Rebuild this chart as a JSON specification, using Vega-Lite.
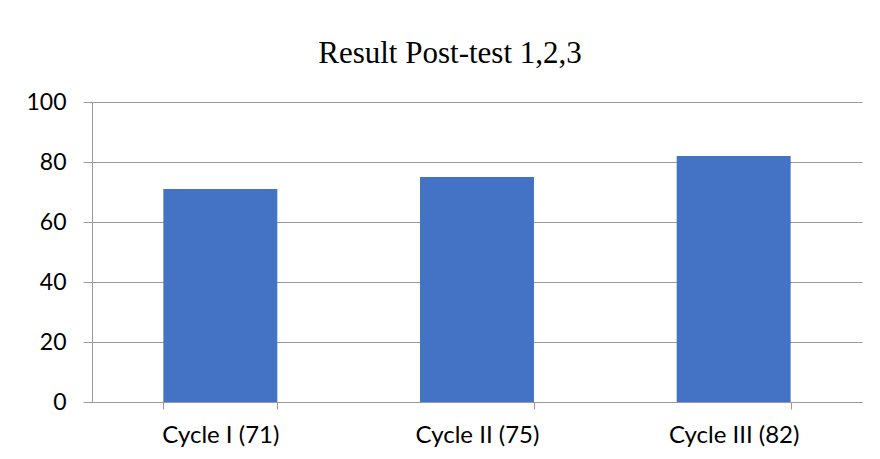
{
  "$schema": "https://vega.github.io/schema/vega-lite/v6.json",
  "width": 770,
  "height": 300,
  "autosize": {"type": "none"},
  "padding": {"left": 92, "top": 102, "right": 18, "bottom": 57},
  "background": "white",
  "config": {"view": {"stroke": null}},
  "title": {
    "text": "Result Post-test 1,2,3",
    "font": "Liberation Serif",
    "fontSize": 31,
    "fontWeight": "normal",
    "color": "#000000",
    "anchor": "middle",
    "dx": -27,
    "offset": 21
  },
  "data": {
    "values": [
      {"cycle": "Cycle I (71)", "score": 71},
      {"cycle": "Cycle II (75)", "score": 75},
      {"cycle": "Cycle III (82)", "score": 82}
    ]
  },
  "mark": {"type": "bar", "color": "#4472C4"},
  "encoding": {
    "x": {
      "field": "cycle",
      "type": "nominal",
      "sort": null,
      "scale": {"paddingInner": 0.556, "paddingOuter": 0.278},
      "axis": {
        "title": null,
        "labelAngle": 0,
        "labelFont": "Lato",
        "labelFontSize": 24,
        "labelColor": "#000000",
        "labelPadding": 14,
        "domainColor": "#999999",
        "tickColor": "#999999",
        "tickBand": "extent",
        "tickSize": 7,
        "grid": false
      }
    },
    "y": {
      "field": "score",
      "type": "quantitative",
      "scale": {"domain": [0, 100]},
      "axis": {
        "title": null,
        "values": [0, 20, 40, 60, 80, 100],
        "labelFont": "Lato",
        "labelFontSize": 23,
        "labelColor": "#000000",
        "labelPadding": 17,
        "tickSize": 9,
        "tickColor": "#999999",
        "domainColor": "#999999",
        "gridColor": "#999999",
        "gridOpacity": 1
      }
    }
  }
}
